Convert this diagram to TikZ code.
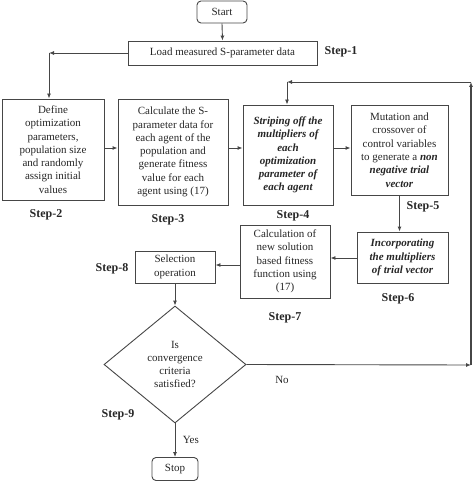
\documentclass[tikz,border=0pt]{standalone}
\usepackage{fontspec}
\setmainfont{Liberation Serif}
\usetikzlibrary{shapes.geometric,arrows.meta}
\definecolor{ln}{RGB}{70,70,70}
\tikzset{
  every node/.style={font=\fontsize{11}{13.3}\selectfont, text=black!85},
  box/.style={draw=ln, line width=0.9pt, inner sep=0pt, align=center},
  term/.style={box, rounded corners=4pt},
  dia/.style={draw=ln, line width=0.9pt, shape=diamond, aspect=1.21, inner sep=0pt, align=center, minimum width=142pt, minimum height=117pt},
  steplbl/.style={font=\fontsize{12}{14}\bfseries},
  arr/.style={draw=ln, line width=0.9pt, -{Latex[length=5pt,width=4pt]}},
  ln/.style={draw=ln, line width=0.9pt},
}
\begin{document}
\begin{tikzpicture}[x=1pt,y=-1pt]
\useasboundingbox (0,0) rectangle (474,481);
% nodes
\node[term, minimum width=50pt, minimum height=22pt] (start) at (222,12) {Start};
\node[box, minimum width=189pt, minimum height=24pt] (load) at (222.5,53) {Load measured S-parameter data};
\node[box, minimum width=102pt, minimum height=101pt] (s2) at (53,149.5) {Define\\optimization\\parameters,\\population size\\and randomly\\assign initial\\values};
\node[box, minimum width=110pt, minimum height=106pt] (s3) at (173,152) {Calculate the S-\\parameter data for\\each agent of the\\population and\\generate fitness\\value for each\\agent using (17)};
\node[box, minimum width=90pt, minimum height=100pt, font=\fontsize{11}{13.3}\bfseries\itshape] (s4) at (288,155) {Striping off the\\multipliers of\\each\\optimization\\parameter of\\each agent};
\node[box, minimum width=97pt, minimum height=90pt] (s5) at (399.5,150) {Mutation and\\crossover of\\control variables\\to generate a \textbf{\textit{non}}\\\textbf{\textit{negative trial}}\\\textbf{\textit{vector}}};
\node[box, minimum width=91pt, minimum height=51pt, font=\fontsize{11}{13.3}\bfseries\itshape] (s6) at (402.5,257.5) {Incorporating\\the multipliers\\of trial vector};
\node[box, minimum width=90pt, minimum height=73pt] (s7) at (285,261.5) {Calculation of\\new solution\\based fitness\\function using\\(17)};
\node[box, minimum width=80pt, minimum height=32pt] (s8) at (175,267) {Selection\\operation};
\node[dia] (d) at (175,364.5) {Is\\convergence\\criteria\\satisfied?};
\node[term, minimum width=46pt, minimum height=23pt] (stop) at (175,469) {Stop};
% step labels
\node[steplbl] (l1) at (341,52) {Step-1};
\node[steplbl] (l2) at (46,215) {Step-2};
\node[steplbl] (l3) at (168,220) {Step-3};
\node[steplbl] (l4) at (293,216) {Step-4};
\node[steplbl] (l5) at (423,207) {Step-5};
\node[steplbl] (l6) at (398,299) {Step-6};
\node[steplbl] (l7) at (285,318) {Step-7};
\node[steplbl] (l8) at (112,269) {Step-8};
\node[steplbl] (l9) at (118,415) {Step-9};
% coordinates
\coordinate (c1) at (49,53);
\coordinate (ya) at (0,148);
\coordinate (y6) at (0,258);
\coordinate (y7) at (0,265);
\coordinate (r1) at (471,365);
\coordinate (r2) at (471,82);
\coordinate (r3) at (287,82);
% connectors
\draw[arr] (start.south) -- (load.north);
\draw[arr] (load.west) -- (c1);
\draw[arr] (c1) -- (c1 |- s2.north);
\draw[arr] (s2.east |- ya) -- (s3.west |- ya);
\draw[arr] (s3.east |- ya) -- (s4.west |- ya);
\draw[arr] (s4.east |- ya) -- (s5.west |- ya);
\draw[arr] (s5.south) -- (s5.south |- s6.north);
\draw[arr] (s6.west |- y6) -- (s7.east |- y6);
\draw[arr] (s7.west |- y7) -- (s8.east |- y7);
\draw[arr] (s8.south) -- (d.north);
\draw[arr] (d.south) -- node[right=4pt, pos=0.5] (yes) {Yes} (stop.north);
\draw[arr] (d.east) -- (r1);
\node (no) at (282,380) {No};
\draw[arr, line width=1.3pt] (r1) -- (r2);
\draw[arr] (r2) -- (r3);
\draw[arr] (r3) -- (r3 |- s4.north);
\end{tikzpicture}
\end{document}
